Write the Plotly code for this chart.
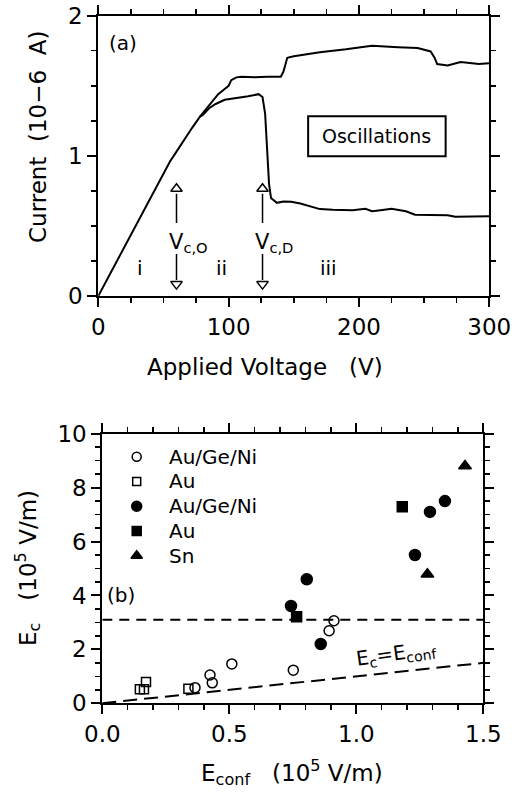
import plotly.graph_objects as go

# ---------------- Panel (a) data ----------------
voltage_upper = [0, 10, 20, 30, 40, 50, 55, 60, 66, 72, 78, 84, 88, 92, 96, 100, 102, 106, 110,
                 120, 130, 140, 142, 145, 150, 170, 190, 210, 230, 245, 255, 258, 260, 268,
                 278, 285, 292, 300]
current_upper = [0, 0.175, 0.35, 0.525, 0.70, 0.875, 0.96, 1.03, 1.12, 1.20, 1.28, 1.35, 1.40,
                 1.44, 1.47, 1.50, 1.54, 1.56, 1.565, 1.56, 1.565, 1.565, 1.60, 1.70, 1.71,
                 1.74, 1.76, 1.785, 1.775, 1.77, 1.745, 1.70, 1.655, 1.645, 1.67, 1.66,
                 1.655, 1.66]
voltage_lower = [78, 80, 85, 90, 97, 105, 115, 123, 126, 128, 129.5, 131, 132.5, 137, 142, 148,
                 155, 162, 170, 180, 195, 205, 210, 215, 225, 236, 243, 255, 268, 274, 300]
current_lower = [1.28, 1.29, 1.34, 1.37, 1.40, 1.41, 1.425, 1.44, 1.42, 1.30, 1.00, 0.80, 0.70,
                 0.665, 0.675, 0.672, 0.66, 0.64, 0.62, 0.615, 0.612, 0.622, 0.605, 0.61,
                 0.622, 0.605, 0.58, 0.578, 0.576, 0.566, 0.569]

critical_voltages = [60, 126]
critical_labels = ["V<sub>c,O</sub>", "V<sub>c,D</sub>"]
region_labels = ["i", "ii", "iii"]
region_x = [32, 94.6, 176.5]

# ---------------- Panel (b) data ----------------
series_names = ["Au/Ge/Ni", "Au", "Au/Ge/Ni", "Au", "Sn"]
econf_open_circle = [0.365, 0.424, 0.433, 0.510, 0.752, 0.893, 0.912]
ec_open_circle = [0.58, 1.05, 0.76, 1.46, 1.23, 2.69, 3.06]
econf_open_square = [0.148, 0.164, 0.172, 0.339]
ec_open_square = [0.52, 0.52, 0.79, 0.54]
econf_filled_circle = [0.743, 0.805, 0.860, 1.231, 1.290, 1.349]
ec_filled_circle = [3.61, 4.60, 2.20, 5.50, 7.10, 7.50]
econf_filled_square = [0.765, 1.181]
ec_filled_square = [3.21, 7.29]
econf_triangle = [1.280, 1.428]
ec_triangle = [4.79, 8.80]
ec_threshold = 3.1
identity_x = [0, 1.5]

FONT = "DejaVu Sans"
BLACK = "black"

W, H = 514, 792


def px(x):
    return x / W


def py(y):
    return 1 - y / H


fig = go.Figure()

# Panel (a) curves
fig.add_trace(go.Scatter(x=voltage_upper, y=current_upper, mode="lines",
                         line=dict(color=BLACK, width=2), xaxis="x", yaxis="y",
                         showlegend=False, cliponaxis=False))
fig.add_trace(go.Scatter(x=voltage_lower, y=current_lower, mode="lines",
                         line=dict(color=BLACK, width=2), xaxis="x", yaxis="y",
                         showlegend=False, cliponaxis=False))

# Arrows at critical voltages (shafts as shapes, open heads as markers)
shapes = []
for v in critical_voltages:
    shapes.append(dict(type="line", xref="x", yref="y", x0=v, x1=v, y0=0.52, y1=0.73,
                       line=dict(color=BLACK, width=1.5)))
    shapes.append(dict(type="line", xref="x", yref="y", x0=v, x1=v, y0=0.30, y1=0.115,
                       line=dict(color=BLACK, width=1.5)))
fig.add_trace(go.Scatter(x=critical_voltages, y=[0.765] * len(critical_voltages), mode="markers",
                         marker=dict(symbol="triangle-up-open", size=10, color=BLACK,
                                     line=dict(width=1.5)),
                         xaxis="x", yaxis="y", showlegend=False))
fig.add_trace(go.Scatter(x=critical_voltages, y=[0.085] * len(critical_voltages), mode="markers",
                         marker=dict(symbol="triangle-down-open", size=10, color=BLACK,
                                     line=dict(width=1.5)),
                         xaxis="x", yaxis="y", showlegend=False))

# Oscillations box
shapes.append(dict(type="rect", xref="x", yref="y", x0=161, x1=266.5, y0=0.998, y1=1.283,
                   line=dict(color=BLACK, width=2), fillcolor="white"))

# Panel (b) reference lines
shapes.append(dict(type="line", xref="x2", yref="y2", x0=0, x1=1.5, y0=ec_threshold,
                   y1=ec_threshold, line=dict(color=BLACK, width=2, dash="10px,7px")))
fig.add_trace(go.Scatter(x=identity_x, y=identity_x, mode="lines",
                         line=dict(color=BLACK, width=2, dash="14px,7px"),
                         xaxis="x2", yaxis="y2", showlegend=False))

# Panel (b) data series
series_data = [
    (econf_open_circle, ec_open_circle, "circle-open", 10),
    (econf_open_square, ec_open_square, "square-open", 9),
    (econf_filled_circle, ec_filled_circle, "circle", 11),
    (econf_filled_square, ec_filled_square, "square", 10),
    (econf_triangle, ec_triangle, "triangle-up", 11),
]
for (xs, ys, sym, sz) in series_data:
    fig.add_trace(go.Scatter(x=xs, y=ys, mode="markers",
                             marker=dict(symbol=sym, size=sz, color=BLACK,
                                         line=dict(color=BLACK, width=1.5)),
                             xaxis="x2", yaxis="y2", showlegend=False))

# Manual legend drawn on an auxiliary axis (row index = legend order)
legend_rows = list(range(len(series_names)))
for row, (xs, ys, sym, sz) in zip(legend_rows, series_data):
    fig.add_trace(go.Scatter(x=[0], y=[row], mode="markers",
                             marker=dict(symbol=sym, size=sz - 1, color=BLACK,
                                         line=dict(color=BLACK, width=1.5)),
                             xaxis="x5", yaxis="y5", showlegend=False, cliponaxis=False))

annotations = []
for row, name in zip(legend_rows, series_names):
    annotations.append(dict(x=0.15, y=row, xref="x5", yref="y5", text=name, showarrow=False,
                            xanchor="left", yanchor="middle", font=dict(size=20)))

# Panel (a) annotations
annotations.append(dict(x=6.4, y=1.807, xref="x", yref="y", text="(a)", showarrow=False,
                        xanchor="left", yanchor="middle", font=dict(size=20)))
for v, lab in zip(critical_voltages, critical_labels):
    annotations.append(dict(x=v, y=0.375, xref="x", yref="y", text=lab, showarrow=False,
                            xanchor="left", yanchor="middle", xshift=-10,
                            font=dict(size=21)))
for xx, lab in zip(region_x, region_labels):
    annotations.append(dict(x=xx, y=0.20, xref="x", yref="y", text=lab, showarrow=False,
                            xanchor="center", yanchor="middle", font=dict(size=20)))
annotations.append(dict(x=213.7, y=1.14, xref="x", yref="y", text="Oscillations",
                        showarrow=False, xanchor="center", yanchor="middle",
                        font=dict(size=19)))

# Panel (b) annotations
annotations.append(dict(x=0.01, y=4.02, xref="x2", yref="y2", text="(b)", showarrow=False,
                        xanchor="left", yanchor="middle", font=dict(size=20)))
annotations.append(dict(x=1.16, y=1.82, xref="x2", yref="y2",
                        text="E<sub>c</sub>=E<sub>conf</sub>", showarrow=False,
                        xanchor="center", yanchor="middle", textangle=-8,
                        font=dict(size=20)))

# Axis titles
title_common = dict(xref="paper", yref="paper", showarrow=False, xanchor="center",
                    yanchor="middle", font=dict(size=23))
annotations.append(dict(x=px(38), y=py(137), text="Current  (10\u22126  A)", textangle=-90,
                        **title_common))
annotations.append(dict(x=px(265), y=py(367), text="Applied Voltage   (V)", **title_common))
annotations.append(dict(x=px(27), y=py(568), text="E<sub>c</sub>   (10<sup>5</sup> V/m)",
                        textangle=-90, **title_common))
annotations.append(dict(x=px(292), y=py(772), text="E<sub>conf</sub>   (10<sup>5</sup> V/m)",
                        **title_common))

common = dict(showgrid=False, zeroline=False, color=BLACK, tickcolor=BLACK, tickwidth=2,
              automargin=False, ticklabeloverflow="allow",
              tickfont=dict(size=23, family=FONT))


def main_axis(**kw):
    d = dict(common)
    d.update(dict(showline=True, linewidth=2, linecolor=BLACK, mirror="allticks",
                  ticks="outside", ticklen=9))
    d.update(kw)
    return d


xa_dom = [px(98.3), px(489.3)]
ya_dom = [py(296), py(15.7)]
xb_dom = [px(102.3), px(483.3)]
yb_dom = [py(703.3), py(433.7)]

minor_a_x = dict(dtick=25, ticklen=5, tickwidth=1.5, tickcolor=BLACK, showgrid=False)
minor_a_y = dict(dtick=0.25, ticklen=5, tickwidth=1.5, tickcolor=BLACK, showgrid=False)
minor_b_x = dict(dtick=0.1, ticklen=5, tickwidth=1.5, tickcolor=BLACK, showgrid=False)
minor_b_y = dict(dtick=0.5, ticklen=5, tickwidth=1.5, tickcolor=BLACK, showgrid=False)

fig.update_layout(
    width=W, height=H, autosize=False,
    margin=dict(l=0, r=0, t=0, b=0, pad=0),
    paper_bgcolor="white", plot_bgcolor="white",
    font=dict(family=FONT, color=BLACK),
    showlegend=False,
    hovermode=False,
    xaxis=main_axis(domain=xa_dom, anchor="y", range=[0, 300], tick0=0, dtick=100,
                    minor=dict(ticks="outside", **minor_a_x)),
    yaxis=main_axis(domain=ya_dom, anchor="x", range=[0, 2], tick0=0, dtick=1,
                    minor=dict(ticks="outside", **minor_a_y)),
    xaxis2=main_axis(domain=xb_dom, anchor="y2", range=[0, 1.5], tick0=0, dtick=0.5,
                     tickformat=".1f", minor=dict(ticks="outside", **minor_b_x)),
    yaxis2=main_axis(domain=yb_dom, anchor="x2", range=[0, 10], tick0=0, dtick=2,
                     minor=dict(ticks="outside", **minor_b_y)),
    xaxis5=dict(domain=[px(136.7), px(336.7)], anchor="y5", range=[0, 1], visible=False,
                automargin=False),
    yaxis5=dict(domain=[py(555.7), py(456.7)], anchor="x5",
                range=[len(series_names) - 1, 0], visible=False, automargin=False),
    shapes=shapes,
    annotations=annotations,
)

fig.write_html(
    "out.html",
    config={"displayModeBar": False, "staticPlot": True},
    post_script="document.documentElement.style.margin='0';"
                "document.body.style.margin='0';document.body.style.overflow='hidden';",
)
